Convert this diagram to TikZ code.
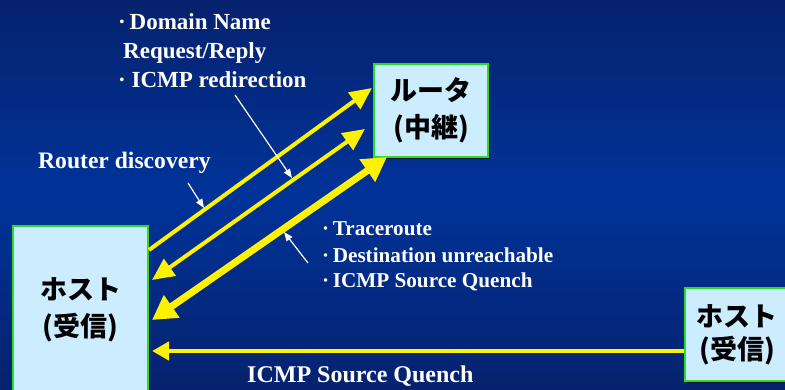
\documentclass[tikz,border=0pt]{standalone}
\usepackage{fontspec}
\setmainfont{Liberation Serif}
\newfontfamily\jp{Noto Sans CJK JP}
\usetikzlibrary{arrows.meta,shadows}
\definecolor{bgtop}{RGB}{6,34,110}
\definecolor{bgmid}{RGB}{0,51,153}
\definecolor{bgbot}{RGB}{6,34,110}
\definecolor{boxfill}{RGB}{204,236,255}
\definecolor{boxline}{RGB}{40,220,40}
\begin{document}
\begin{tikzpicture}[x=1pt,y=-1pt,
  box/.style={draw=boxline, line width=2pt, fill=boxfill, inner sep=0pt,
    font=\jp\bfseries\fontsize{27}{37}\selectfont, align=center,
    drop shadow={shadow xshift=1.5pt, shadow yshift=-1.5pt, opacity=0.6, fill=black}},
  lbl/.style={text=white, font=\bfseries\fontsize{23}{28}\selectfont, inner sep=0pt, anchor=base west},
  lblsmall/.style={lbl, font=\bfseries\fontsize{21.2}{26}\selectfont},
  lblbig/.style={lbl, font=\bfseries\fontsize{24}{28}\selectfont},
  ylink/.style={draw=yellow, line width=4pt},
  ptr/.style={draw=white, line width=1.2pt, -{Triangle[length=9pt,width=7pt]}}
]
\useasboundingbox (0,0) rectangle (785,389);
\shade[top color=bgtop, bottom color=bgbot, middle color=bgmid] (0,0) rectangle (785,389);

% boxes
\node[box, anchor=north west, minimum width=114pt, minimum height=93pt] (r) at (373,63) {ルータ\\(中継)};
\node[box, anchor=north west, minimum width=135pt, minimum height=167pt] (h1) at (12,225) {ホスト\\(受信)};
\node[box, anchor=north west, minimum width=104pt, minimum height=93pt, font=\jp\bfseries\fontsize{27}{33}\selectfont] (h2) at (684,287) {ホスト\\(受信)};

% yellow connectors
\draw[ylink, -{Triangle[length=22pt,width=20pt]}] ([yshift=-25pt]h1.north east) -- ([xshift=-1pt,yshift=-25pt]r.north west);
\draw[ylink, {Triangle[length=22pt,width=20pt]}-{Triangle[length=22pt,width=20pt]}] ([xshift=3pt,yshift=-55pt]h1.north east) -- ([xshift=-8pt,yshift=-66pt]r.north west);
\draw[ylink, line width=7pt, {Triangle[length=24pt,width=26pt]}-{Triangle[length=24pt,width=26pt]}] ([xshift=3pt,yshift=-95pt]h1.north east) -- ([xshift=14pt,yshift=1pt]r.south west);
\draw[ylink, line width=4.5pt, -{Triangle[length=17pt,width=18pt]}] ([yshift=-64pt]h2.north west) -- ([xshift=3pt,yshift=-126pt]h1.north east);

% labels
\node[lbl] (t1) at (118,29) {·\,Domain Name};
\node[lbl] (t2) at (123,58) {Request/Reply};
\node[lbl] (t3) at (118,87) {·\ ICMP redirection};
\node[lbl, font=\bfseries\fontsize{23.6}{28}\selectfont] (t4) at (38,168) {Router discovery};
\node[lblsmall] (t5) at (322,235) {·\,Traceroute};
\node[lblsmall] (t6) at (322,262) {·\,Destination unreachable};
\node[lblsmall] (t7) at (322,287) {·\,ICMP Source Quench};
\node[lblbig] (t8) at (247,382) {ICMP Source Quench};

% white pointers
\coordinate (p1s) at (188,183);
\coordinate (p1e) at (204,208);
\coordinate (p2s) at (235,95);
\coordinate (p2e) at (292,178);
\coordinate (p3s) at (308,263);
\coordinate (p3e) at (284,232);
\draw[ptr] (p1s) -- (p1e);
\draw[ptr] (p2s) -- (p2e);
\draw[ptr] (p3s) -- (p3e);
\end{tikzpicture}
\end{document}
